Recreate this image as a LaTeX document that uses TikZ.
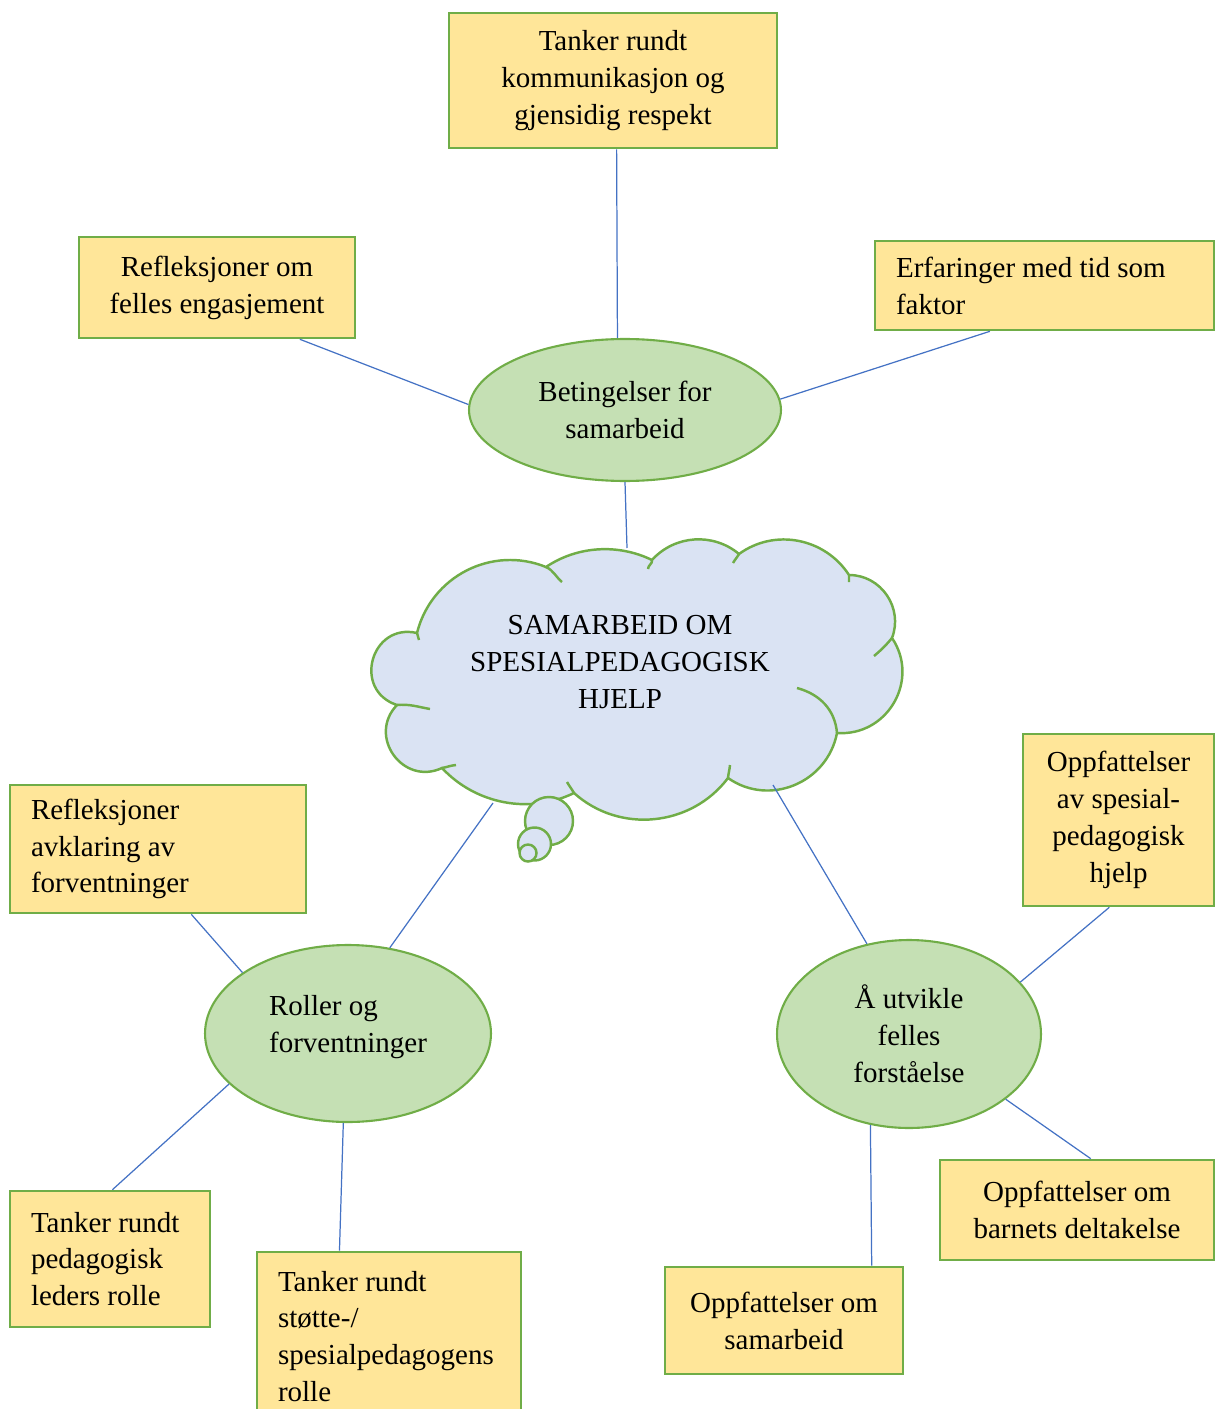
\documentclass[tikz,border=0pt]{standalone}
\usepackage{fontspec}
\setmainfont{Liberation Serif}
\usetikzlibrary{shapes.geometric}
\definecolor{ideafill}{HTML}{FFE699}
\definecolor{greenline}{HTML}{70AD47}
\definecolor{themefill}{HTML}{C5E0B4}
\definecolor{cloudfill}{HTML}{DAE3F3}
\definecolor{linkblue}{HTML}{4472C4}

\begin{document}
\begin{tikzpicture}[
	x=0.02cm, y=-0.02cm,
	font=\fontsize{16.5}{21}\selectfont,
	idea/.style={rectangle,draw=greenline,fill=ideafill,line width=1.5pt,
		align=flush center,inner sep=0pt},
	ideal/.style={idea,align=flush left,inner xsep=0.42cm},
	theme/.style={ellipse,draw=greenline,fill=themefill,line width=1.2pt,
		align=flush center,inner sep=0pt},
	cloudshape/.style={draw=greenline,fill=cloudfill,line width=1.4pt},
	tail/.style={draw=greenline,line width=1.4pt},
	link/.style={draw=linkblue,line width=0.7pt},
	]
	\useasboundingbox (0,0) rectangle (1215,1409);
	
	% Cloud in the middle
	\path[cloudshape] (546,567) to[out=34,in=154,looseness=0.91] (652,560)
		to[out=48,in=140,looseness=0.99] (739,554)
		to[out=36,in=123,looseness=1.01] (849,575)
		to[out=0,in=69,looseness=1.08] (892,638)
		to[out=-56,in=-4,looseness=1.18] (837,733)
		to[out=-101,in=-35,looseness=1.1] (728,778)
		to[out=-127,in=-42,looseness=1.01] (574,793)
		to[out=206,in=-47,looseness=0.94] (442,768)
		to[out=205,in=226,looseness=1.43] (397,705)
		to[out=162,in=167,looseness=1.62] (417,633)
		to[out=76,in=158,looseness=1.03] (546,567) -- cycle;
	\draw[tail] (546,567) to[out=-25,in=140] (562,582)
		(652,560) to[out=-80,in=90] (648,569)
		(739,554) to[out=-120,in=60] (733,563)
		(849,575) to[out=-90,in=90] (849,582)
		(892,638) to[out=-130,in=40] (874,656)
		(797,688) to[out=-15,in=95] (837,733)
		(728,778) to[out=85,in=-95] (730,765)
		(574,793) to[out=120,in=-60] (567,782)
		(442,768) to[out=10,in=185] (456,765)
		(397,705) to[out=5,in=170] (430,709)
		(417,633) to[out=-80,in=100] (419,640);
	\path[cloudshape] (549,821) circle[radius=24];
	\path[cloudshape] (534.5,844) circle[radius=16.5];
	\path[cloudshape] (528,853) circle[radius=8.5];
	\node[align=flush center] (sky) at (620,662) {SAMARBEID OM\\SPESIALPEDAGOGISK\\HJELP};
	\coordinate (sky-top) at (627,548);
	\coordinate (sky-sw) at (493,803);
	\coordinate (sky-se) at (773,785);
	
	% Conditions branch
	\node[theme,minimum width=6.24cm,minimum height=2.84cm] (beting) at (625,410) {Betingelser for\\samarbeid};
	\node[idea,minimum width=6.56cm,minimum height=2.70cm] (komm) at (613,80.5) {Tanker rundt\\kommunikasjon og\\gjensidig respekt};
	\node[idea,minimum width=5.52cm,minimum height=2.02cm] (engasj) at (217,287.5) {Refleksjoner om\\felles engasjement};
	\node[ideal,text width=5.94cm,minimum height=1.78cm] (tid) at (1044.5,285.5) {Erfaringer med tid som\\faktor};
	
	% Roles branch
	\node[theme,align=flush left,text depth=10.5pt,minimum width=5.72cm,minimum height=3.54cm] (roller) at (348,1033.5) {Roller og\\forventninger};
	\node[ideal,text width=5.08cm,minimum height=2.56cm] (avklar) at (158,849) {Refleksjoner\\avklaring av\\forventninger};
	\node[ideal,text width=3.16cm,minimum height=2.72cm] (pedleder) at (110,1259) {Tanker rundt\\pedagogisk\\leders rolle};
	\node[ideal,text width=4.44cm,minimum height=3.38cm] (spesped) at (389,1336.5) {Tanker rundt\\støtte-/\\spesialpedagogens\\rolle};
	
	% Common understanding branch
	\node[theme,minimum width=5.28cm,minimum height=3.76cm] (utvikle) at (909,1034) {Å utvikle\\felles\\forståelse};
	\node[idea,minimum width=3.82cm,minimum height=3.44cm] (oppsyn) at (1118.5,820) {Oppfattelser\\av spesial-\\pedagogisk\\hjelp};
	\node[idea,minimum width=5.48cm,minimum height=2.00cm] (deltak) at (1077,1210) {Oppfattelser om\\barnets deltakelse};
	\node[idea,minimum width=4.76cm,minimum height=2.14cm] (oppsam) at (784,1320.5) {Oppfattelser om\\samarbeid};
	
	% Connections
	\draw[link] (komm.-87) -- (beting.96);
	\draw[link] (engasj.-32) -- (beting.178);
	\draw[link] (tid.-140) -- (beting.4);
	\draw[link] (beting.south) -- (sky-top);
	\draw[link] (sky-sw) -- (roller.64);
	\draw[link] (sky-se) -- (utvikle.115);
	\draw[link] (avklar.-63) -- (roller.150);
	\draw[link] (roller.203) -- (pedleder.88);
	\draw[link] (roller.-93) -- (spesped.120);
	\draw[link] (utvikle.25) -- (oppsyn.-96);
	\draw[link] (utvikle.-34) -- (deltak.75);
	\draw[link] (utvikle.-113) -- (oppsam.32);
	
\end{tikzpicture}
\end{document}
